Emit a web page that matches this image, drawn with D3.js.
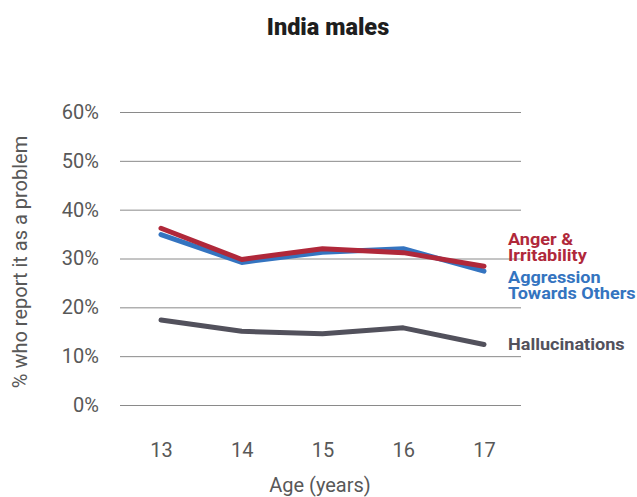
<!DOCTYPE html>
<html><head><meta charset="utf-8">
<script src="https://cdn.jsdelivr.net/npm/d3@7"></script>
<style>body{margin:0;background:#fff}svg{display:block;font-family:Roboto,sans-serif}</style>
</head><body>
<svg id="c" width="637" height="497"></svg>
<script>
const ages = [13, 14, 15, 16, 17];
const anger = [36.2, 29.8, 32.0, 31.2, 28.4];
const aggression = [34.9, 29.2, 31.3, 32.0, 27.4];
const hallucinations = [17.4, 15.1, 14.6, 15.8, 12.4];
const yTicks = [0, 10, 20, 30, 40, 50, 60];

const svg = d3.select("#c");
const x = d3.scaleLinear().domain([13, 17]).range([161, 484]);
const y = d3.scaleLinear().domain([0, 60]).range([405, 112]);
const gridL = 120, gridR = 521;

svg.append("text").attr("x", 328).attr("y", 35).attr("text-anchor", "middle")
  .attr("font-size", 23.5).attr("font-weight", 900).attr("fill", "#1e1e1e").text("India males");

const gy = svg.append("g").attr("transform", `translate(${gridL},0)`)
  .call(d3.axisLeft(y).tickValues(yTicks).tickSize(-(gridR - gridL)).tickFormat(d => d + "%").tickPadding(21));
gy.select(".domain").remove();
gy.selectAll(".tick line").attr("stroke", "#8a8a8a").attr("stroke-width", 1);
gy.selectAll(".tick text").attr("font-size", 20).attr("fill", "#585858").attr("font-family", "Roboto, sans-serif");

const gx = svg.append("g").attr("transform", `translate(0,405)`)
  .call(d3.axisBottom(x).tickValues(ages).tickSize(0).tickFormat(d3.format("d")).tickPadding(38));
gx.select(".domain").remove();
gx.selectAll(".tick text").attr("font-size", 20).attr("fill", "#585858").attr("font-family", "Roboto, sans-serif");

svg.append("text").attr("x", 320).attr("y", 492).attr("text-anchor", "middle")
  .attr("font-size", 20).attr("fill", "#585858").text("Age (years)");
svg.append("text").attr("transform", "translate(27,262) rotate(-90)").attr("text-anchor", "middle")
  .attr("font-size", 20).attr("fill", "#585858").text("% who report it as a problem");

const line = d3.line().x((d, i) => x(ages[i])).y(d => y(d));
const series = [
  {v: hallucinations, c: "#52515c"},
  {v: aggression, c: "#3474c0"},
  {v: anger, c: "#b0283a"}
];
series.forEach(s => {
  svg.append("path").datum(s.v).attr("d", line).attr("fill", "none")
    .attr("stroke", s.c).attr("stroke-width", 5).attr("stroke-linecap", "round").attr("stroke-linejoin", "round");
});

const labels = [
  {lines: ["Anger &", "Irritability"], c: "#b0283a", y0: 245},
  {lines: ["Aggression", "Towards Others"], c: "#3474c0", y0: 283},
  {lines: ["Hallucinations"], c: "#52515c", y0: 350}
];
labels.forEach(l => {
  const t = svg.append("text").attr("transform", `translate(508,${l.y0}) scale(1.13,1)`).attr("font-size", 16)
    .attr("font-weight", 700).attr("fill", l.c);
  l.lines.forEach((s, i) => t.append("tspan").attr("x", 0).attr("y", i * 16.2).text(s));
});
</script>
</body></html>
